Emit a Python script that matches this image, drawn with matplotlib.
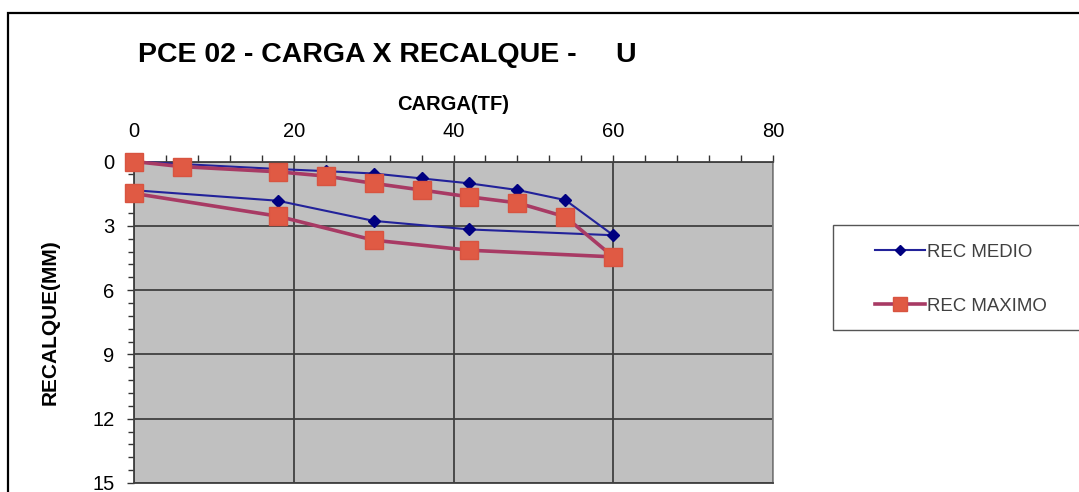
import matplotlib
matplotlib.use("Agg")
import matplotlib.pyplot as plt
from matplotlib.patches import Rectangle
from matplotlib.ticker import MultipleLocator

plt.rcParams['font.family'] = ['Liberation Sans', 'DejaVu Sans']

# ---- data ----
carga = [0, 6, 18, 24, 30, 36, 42, 48, 54, 60, 42, 30, 18, 0]
rec_medio = [0.0, 0.12, 0.35, 0.45, 0.56, 0.79, 1.02, 1.33, 1.80, 3.44, 3.17, 2.77, 1.83, 1.34]
rec_maximo = [0.0, 0.24, 0.48, 0.68, 1.02, 1.33, 1.65, 1.93, 2.58, 4.45, 4.14, 3.67, 2.55, 1.49]
series_names = ["REC MEDIO", "REC MAXIMO"]
x_ticks = [0, 20, 40, 60, 80]
y_ticks = [0, 3, 6, 9, 12, 15]
title = "PCE 02 - CARGA X RECALQUE -     U"
xlabel = "CARGA(TF)"
ylabel = "RECALQUE(MM)"

W, H = 1079, 492
fig = plt.figure(figsize=(W / 100, H / 100), dpi=100)
fig.patch.set_facecolor('white')

# axes placement in pixels
L, R, T, B = 134, 773, 161.5, 483
ax = fig.add_axes([L / W, (H - B) / H, (R - L) / W, (B - T) / H])
ax.set_facecolor('#c0c0c0')

ax.plot(carga, rec_medio, color='#22229a', lw=1.5, marker='D', ms=6.5,
        mfc='#000080', mec='#000080', zorder=3, label=series_names[0],
        clip_on=False)
ax.plot(carga, rec_maximo, color='#a83a64', lw=2.6, marker='s', ms=12.5,
        mfc='#e05a44', mec='#d85440', mew=1.0, zorder=4,
        label=series_names[1], clip_on=False)

ax.set_xlim(0, 80)
ax.set_ylim(15, 0)
ax.set_xticks(x_ticks)
ax.set_yticks(y_ticks)
ax.xaxis.set_minor_locator(MultipleLocator(4))
ax.yaxis.set_minor_locator(MultipleLocator(0.6))
ax.xaxis.tick_top()
ax.xaxis.set_label_position('top')
ax.tick_params(axis='both', which='major', direction='out', length=5, width=1.0,
               color='#333333', labelsize=14.5, pad=9)
ax.tick_params(axis='both', which='minor', direction='out', length=4.5, width=1.0,
               color='#333333')
ax.tick_params(axis='x', which='minor', length=5)
ax.tick_params(axis='x', which='major', pad=10)
ax.grid(True, which='major', color='#404040', lw=1.3, zorder=1)
ax.set_axisbelow(True)
for side in ['top', 'left', 'bottom']:
    ax.spines[side].set_color('#404040')
    ax.spines[side].set_linewidth(1.3)
ax.spines['right'].set_color('#808080')
ax.spines['right'].set_linewidth(1.2)

ax.set_xlabel(xlabel, fontsize=14.5, fontweight='bold')
ax.xaxis.set_label_coords(0.5, (B - 104) / (B - T))
ax.xaxis.label.set_va('center')
ax.set_ylabel(ylabel, fontsize=15, fontweight='bold')
ax.yaxis.set_label_coords((50 - L) / (R - L), 0.5)
ax.yaxis.label.set_va('center')

fig.text(138 / W, 1 - 55 / H, title, ha='left', va='center', fontsize=20.5,
         fontweight='bold')

# outer border
fig.add_artist(Rectangle((8 / W, -0.2), 2, (H - 13) / H + 0.2,
                         transform=fig.transFigure, fill=False, lw=1.6,
                         ec='black'))
# legend box
fig.add_artist(Rectangle((833 / W, (H - 330) / H), (1100 - 833) / W, 105 / H,
                         transform=fig.transFigure, fill=True, fc='white',
                         lw=1.0, ec='#555555'))
leg = fig.legend(loc='upper left', bbox_to_anchor=(875 / W, 1 - 243.5 / H),
                 frameon=False, fontsize=13.4, handlelength=2.7,
                 handletextpad=0.1, borderpad=0, borderaxespad=0,
                 labelspacing=2.0, markerscale=0.8)
for t in leg.get_texts():
    t.set_color('#404040')

fig.savefig('out.png', dpi=100)
